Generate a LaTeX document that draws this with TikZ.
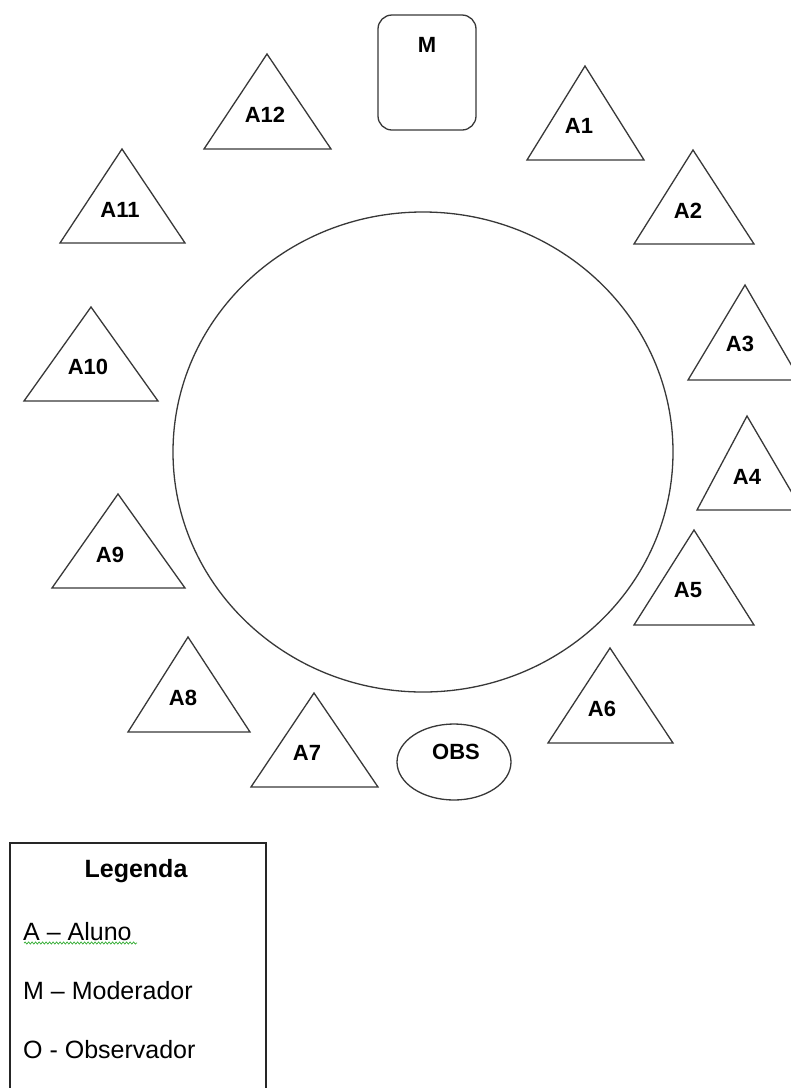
\documentclass[tikz,border=0pt]{standalone}
\usepackage{fontspec}
\setmainfont{Liberation Sans}
\usetikzlibrary{decorations.pathmorphing}
\tikzset{
  shapeline/.style={draw=black!78, line width=1.3pt},
  lbl/.style={font=\fontsize{22}{26}\selectfont\bfseries, inner sep=0pt},
  legtext/.style={font=\fontsize{25}{29}\selectfont, inner sep=0pt, anchor=base west},
}
% \mytri{name}{apex x}{apex y}{left x}{right x}{base y}{label x}{label y}{text}
\newcommand\mytri[9]{%
  \draw[shapeline, line join=miter] (#2,-#3) -- (#5,-#6) -- (#4,-#6) -- cycle;
  \node[lbl] (#1) at (#7,-#8) {#9};
}
\begin{document}
\begin{tikzpicture}[x=1pt,y=1pt]
\useasboundingbox (0,0) rectangle (791,-1088);
\fill[white] (0,0) rectangle (791,-1088);
% table
\draw[shapeline] (423,-452) ellipse [x radius=250, y radius=240];
\coordinate (table) at (423,-452);
% moderator
\draw[shapeline, rounded corners=14pt] (378,-15) rectangle (476,-130);
\node[lbl] (M) at (427,-45) {M};
% observer
\draw[shapeline] (454,-762) ellipse [x radius=57, y radius=38];
\node[lbl] (OBS) at (456,-752) {OBS};
% students
\mytri{A1}{585}{66}{527}{644}{160}{579}{126}{A1}
\mytri{A2}{693}{150}{634}{754}{244}{688}{211}{A2}
\mytri{A3}{745}{285}{688}{800}{380}{740}{344}{A3}
\mytri{A4}{747}{416}{697}{802}{510}{747}{477}{A4}
\mytri{A5}{694}{530}{634}{754}{625}{688}{590}{A5}
\mytri{A6}{610}{648}{548}{673}{743}{602}{709}{A6}
\mytri{A7}{314}{693}{251}{378}{787}{307}{753}{A7}
\mytri{A8}{188}{637}{128}{250}{732}{183}{698}{A8}
\mytri{A9}{118}{494}{52}{185}{588}{110}{555}{A9}
\mytri{A10}{91}{307}{24}{158}{401}{88}{367}{A10}
\mytri{A11}{122}{149}{60}{185}{243}{120}{210}{A11}
\mytri{A12}{267}{54}{204}{331}{149}{265}{115}{A12}
% legend
\draw[black!85, line width=1.3pt] (10,-1100) -- (10,-843) -- (266,-843) -- (266,-1100);
\node[font=\fontsize{25}{29}\selectfont\bfseries, inner sep=0pt, anchor=base] (leg) at (136,-877) {Legenda};
\node[legtext] (la) at (23,-940) {A – Aluno};
\draw[green!60!black!80, line width=0.7pt, decorate, decoration={snake, amplitude=1.1pt, segment length=3.5pt}] (24,-943) -- (137,-943);
\node[legtext] (lm) at (23,-999) {M – Moderador};
\node[legtext] (lo) at (23,-1058) {O - Observador};
\end{tikzpicture}
\end{document}
